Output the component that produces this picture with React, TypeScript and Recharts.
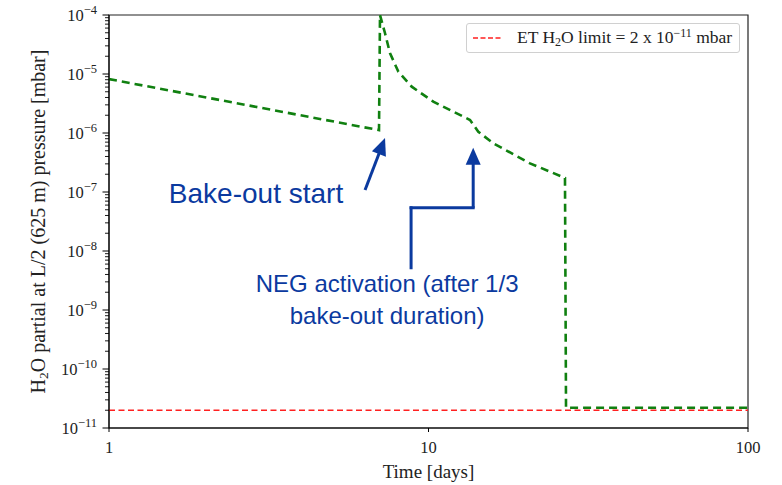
import React from 'react';
import {
  LineChart,
  Line,
  XAxis,
  YAxis,
  ReferenceLine,
  ReferenceDot,
  ReferenceArea,
  Legend,
  Label,
} from 'recharts';

// ---- data ----
const timeDays = [1, 7.0, 7.05, 7.31, 7.58, 8.05, 8.86, 10.35, 13.49, 14.32, 15.95, 20.78, 26.74, 26.94, 100];
const h2oPressure = [8.2e-6, 1.12e-6, 1e-4, 4.9e-5, 2.24e-5, 1.09e-5, 6.1e-6, 3.4e-6, 1.66e-6, 1.05e-6, 6.7e-7, 3.06e-7, 1.73e-7, 2.2e-11, 2.2e-11];
const limitDays = [1, 100];
const limitPressure = [2e-11, 2e-11];
const xTickValues = [1, 10, 100];
const yDecadeExponents = [-11, -10, -9, -8, -7, -6, -5, -4];
const yMinorMultipliers = [2, 3, 4, 5, 6, 7, 8, 9];

// annotation anchors (data coordinates)
const bakeArrow = [{ x: 6.33, y: 1.08e-7 }, { x: 7.31, y: 8.2e-7 }];
const negArrowPath = [
  { x: 8.82, y: 5.2e-9 },
  { x: 8.82, y: 5.4e-8 },
  { x: 13.8, y: 5.4e-8 },
  { x: 13.8, y: 5.6e-7 },
];
const bakeLabelAt = { x: 2.885, y: 9.6e-8 };
const negLabelAt = { x: 7.42, y: 2.87e-9 };

const pressureData = timeDays.map((x, i) => ({ x, y: h2oPressure[i] }));
const limitData = limitDays.map((x, i) => ({ x, y: limitPressure[i] }));
const yMajorTicks = yDecadeExponents.map((e) => Number(`1e${e}`));
const yMinorTicks = yDecadeExponents
  .slice(0, -1)
  .flatMap((e) => yMinorMultipliers.map((m) => Number(`${m}e${e}`)));
const yTicks = [...yMajorTicks, ...yMinorTicks].sort((a, b) => a - b);

const SERIF = '"Liberation Serif", "Times New Roman", serif';
const SANS = '"Liberation Sans", Arial, sans-serif';
const BLUE = '#0b3a9f';
const TEXT = '#222';

const YTick = (props: any) => {
  const { x, y, payload } = props;
  const v = payload.value as number;
  const e = Math.floor(Math.log10(v) + 1e-9);
  const major = Math.abs(v / Math.pow(10, e) - 1) < 1e-6;
  return (
    <g>
      <line x1={x - (major ? 6.5 : 4)} x2={x} y1={y} y2={y} stroke="#000" strokeWidth={major ? 1 : 0.9} />
      {major && (
        <text x={x - 12} y={y + 5.5} textAnchor="end" fontFamily={SERIF} fontSize={16.5} fill={TEXT}>
          <tspan>10</tspan>
          <tspan dy={-7} fontSize={12.5}>{`\u2212${-e}`}</tspan>
        </text>
      )}
    </g>
  );
};

const ArrowHeadLine = (props: any) => {
  const { x1, y1, x2, y2 } = props;
  const dx = x2 - x1;
  const dy = y2 - y1;
  const len = Math.sqrt(dx * dx + dy * dy) || 1;
  const ux = dx / len;
  const uy = dy / len;
  const headLen = 17;
  const half = 7.5;
  const bx = x2 - ux * headLen;
  const by = y2 - uy * headLen;
  const nx = -uy;
  const ny = ux;
  return (
    <g>
      <line x1={x1} y1={y1} x2={bx + ux * 2} y2={by + uy * 2} stroke={BLUE} strokeWidth={3} />
      <polygon
        points={`${x2},${y2} ${bx + nx * half},${by + ny * half} ${bx - nx * half},${by - ny * half}`}
        fill={BLUE}
      />
    </g>
  );
};

const PlainLine = (props: any) => {
  const { x1, y1, x2, y2 } = props;
  return <line x1={x1} y1={y1} x2={x2} y2={y2} stroke={BLUE} strokeWidth={3} strokeLinecap="square" />;
};

const BakeLabel = (props: any) => {
  const { cx, cy } = props;
  return (
    <text x={cx} y={cy} textAnchor="middle" dominantBaseline="central" fontFamily={SANS} fontSize={28} fill={BLUE}>
      Bake-out start
    </text>
  );
};

const NegLabel = (props: any) => {
  const { cx, cy } = props;
  return (
    <text x={cx} y={cy} textAnchor="middle" dominantBaseline="central" fontFamily={SANS} fontSize={24} fill={BLUE}>
      <tspan x={cx} dy={0}>NEG activation (after 1/3</tspan>
      <tspan x={cx} dy={32}>bake-out duration)</tspan>
    </text>
  );
};

const LegendBox = () => (
  <div
    style={{
      boxSizing: 'border-box',
      width: 274,
      height: 30,
      border: '1px solid #d0d0d0',
      borderRadius: 3,
      background: '#fff',
      display: 'flex',
      alignItems: 'center',
      fontFamily: SERIF,
      fontSize: 17.5,
      color: TEXT,
    }}
  >
    <svg width={50} height={28} style={{ flex: 'none' }}>
      <line x1={6} x2={34} y1={14} y2={14} stroke="#ff2020" strokeWidth={1.6} strokeDasharray="5 2.5" />
    </svg>
    <span style={{ whiteSpace: 'nowrap' }}>
      ET H<sub style={{ fontSize: 12, verticalAlign: '-0.25em' }}>2</sub>O limit = 2 x 10
      <sup style={{ fontSize: 12, verticalAlign: '0.5em' }}>{'\u221211'}</sup> mbar
    </span>
  </div>
);

export default function App() {
  return (
    <div style={{ position: 'absolute', left: 0, top: 0, width: 782, height: 485, background: '#fff' }}>
      <LineChart width={782} height={485} margin={{ top: 15, right: 34, bottom: 0, left: 0 }}>
        <XAxis
          type="number"
          dataKey="x"
          scale="log"
          domain={[1, 100]}
          ticks={xTickValues}
          interval={0}
          allowDataOverflow
          height={57}
          tickSize={4}
          tickMargin={9}
          stroke="#000"
          tick={{ fill: TEXT, fontSize: 16.5, fontFamily: SERIF }}
        >
          <Label
            content={(p: any) => {
              const vb = p.viewBox || {};
              return (
                <text x={vb.x + vb.width / 2} y={478} textAnchor="middle" fontFamily={SERIF} fontSize={19} fill={TEXT}>
                  Time [days]
                </text>
              );
            }}
          />
        </XAxis>
        <YAxis
          type="number"
          dataKey="y"
          scale="log"
          domain={[1e-11, 1e-4]}
          ticks={yTicks}
          interval={0}
          minTickGap={0}
          allowDataOverflow
          width={109}
          tickSize={0}
          tickMargin={0}
          tickLine={false}
          stroke="#000"
          tick={<YTick />}
        >
          <Label
            content={(p: any) => {
              const vb = p.viewBox || {};
              const cx = 38;
              const cy = vb.y + vb.height / 2;
              return (
                <text
                  x={cx}
                  y={cy}
                  transform={`rotate(-90, ${cx}, ${cy})`}
                  textAnchor="middle"
                  dominantBaseline="central"
                  fontFamily={SERIF}
                  fontSize={20}
                  fill={TEXT}
                >
                  <tspan>H</tspan>
                  <tspan dy={5} fontSize={13.5}>2</tspan>
                  <tspan dy={-5}>O partial at L/2 (625 m) pressure [mbar]</tspan>
                </text>
              );
            }}
          />
        </YAxis>
        <ReferenceArea x1={1} x2={100} y1={1e-11} y2={1e-4} fill="none" stroke="#222" strokeWidth={1.2} />
        <Line
          data={pressureData}
          dataKey="y"
          type="linear"
          stroke="#108010"
          strokeWidth={2.6}
          strokeDasharray="8 5"
          dot={false}
          isAnimationActive={false}
          legendType="none"
        />
        <Line
          data={limitData}
          dataKey="y"
          type="linear"
          stroke="#ff2020"
          strokeWidth={1.6}
          strokeDasharray="6 3.5"
          dot={false}
          isAnimationActive={false}
        />
        <ReferenceLine segment={bakeArrow} shape={ArrowHeadLine} />
        <ReferenceLine segment={[negArrowPath[0], negArrowPath[1]]} shape={PlainLine} />
        <ReferenceLine segment={[negArrowPath[1], negArrowPath[2]]} shape={PlainLine} />
        <ReferenceLine segment={[negArrowPath[2], negArrowPath[3]]} shape={ArrowHeadLine} />
        <ReferenceDot x={bakeLabelAt.x} y={bakeLabelAt.y} r={1} shape={BakeLabel} />
        <ReferenceDot x={negLabelAt.x} y={negLabelAt.y} r={1} shape={NegLabel} />
        <Legend
          layout="vertical"
          align="center"
          verticalAlign="middle"
          wrapperStyle={{ position: 'absolute', left: 466, top: 23, width: 274, height: 30 }}
          content={() => <LegendBox />}
        />
      </LineChart>
    </div>
  );
}
